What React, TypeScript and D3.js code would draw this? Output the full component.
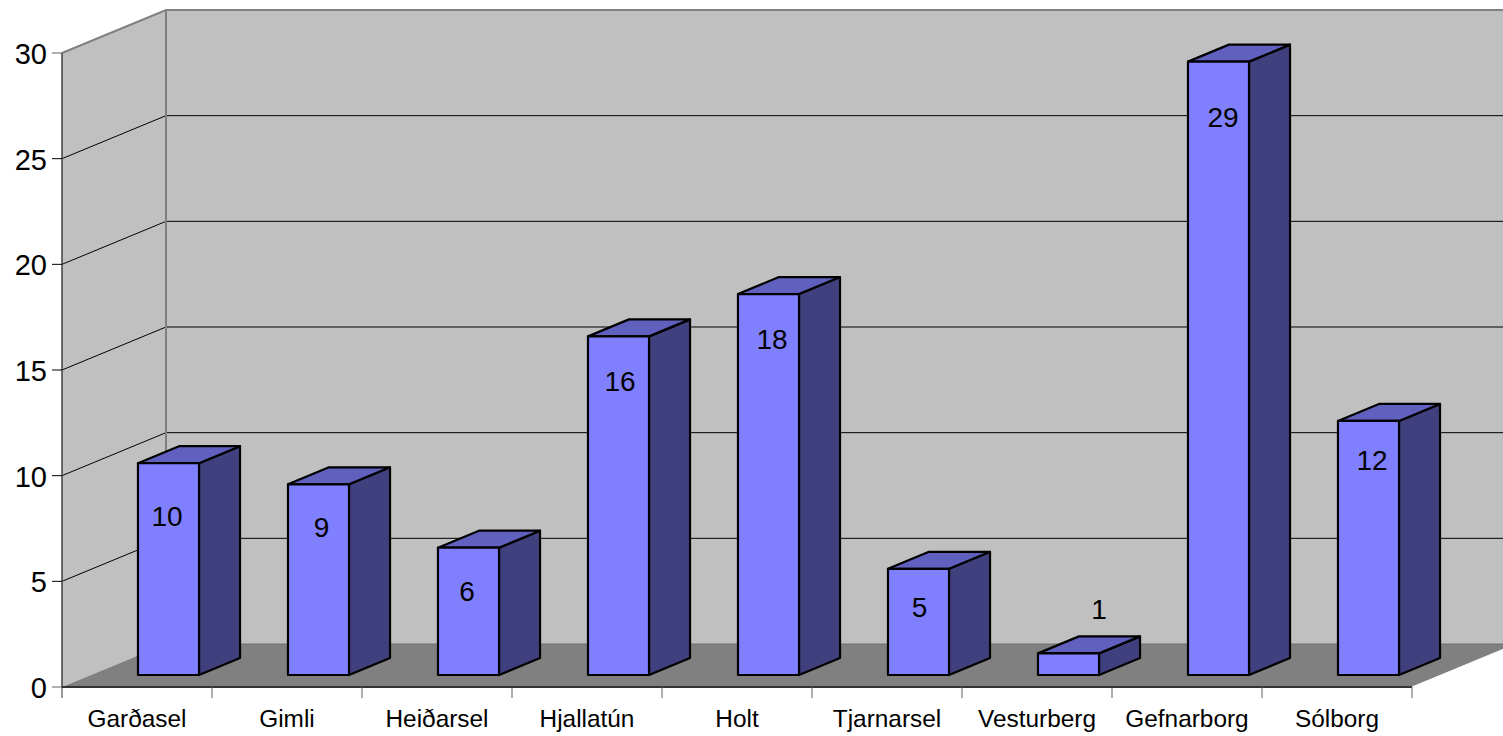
import React from 'react';
import * as d3 from 'd3';

const categories = ['Garðasel', 'Gimli', 'Heiðarsel', 'Hjallatún', 'Holt', 'Tjarnarsel', 'Vesturberg', 'Gefnarborg', 'Sólborg'];
const values = [10, 9, 6, 16, 18, 5, 1, 29, 12];
const yTicks = [0, 5, 10, 15, 20, 25, 30];

// data label nudges, excel puts them in odd places
const labelDx = [-1.5, 3, -1.5, 1.5, 3.5, 1, 30.5, 4.5, 3.5];
const labelDy = [52.5, 42.5, 43, 44.5, 44.5, 38, -44.5, 54.5, 38.5];

const W = 1503, H = 736;
const x0 = 62, x1 = 1412, y0 = 687, y30 = 53;
const depthX = 104, depthY = 43;
const barDepthX = 41, barDepthY = 17;
const barLift = 12, barShift = 31.5;
const barPadding = 0.593;

const font = '"Liberation Sans", Arial, sans-serif';

const App = () => {
  // axis slots on the front edge of the floor
  const xAxis = d3.scaleBand<string>().domain(categories).range([x0, x1]);
  // bars sit further back on the floor, same step
  const x = d3.scaleBand<string>().domain(categories)
    .range([x0 + barShift, x1 + barShift])
    .paddingInner(barPadding).paddingOuter(barPadding / 2);
  const y = d3.scaleLinear().domain([0, 30]).range([y0, y30]);
  const poly = (pts: [number, number][]) => d3.line()(pts) + 'Z';

  const edges = [...categories.map(c => xAxis(c) as number), x1];

  return (
    <svg width={W} height={H} style={{ position: 'absolute', left: 0, top: 0, display: 'block', background: '#fff' }}>
      {/* walls */}
      <path d={poly([[x0, y30], [x0 + depthX, y30 - depthY], [W, y30 - depthY], [W, y0 - depthY], [x0 + depthX, y0 - depthY], [x0, y0]])} fill="#c0c0c0" />
      <path d={poly([[x0, y0], [x0 + depthX, y0 - depthY], [x1 + depthX, y0 - depthY], [x1, y0]])} fill="#808080" />
      <line x1={x0 + depthX} x2={W} y1={y0 - depthY} y2={y0 - depthY} stroke="#707070" strokeWidth={1} />

      {/* gridlines */}
      {yTicks.slice(1, -1).map(t => (
        <path key={t} d={d3.line()([[x0, y(t)], [x0 + depthX, y(t) - depthY], [W, y(t) - depthY]]) as string} stroke="#000" strokeWidth={1} fill="none" />
      ))}
      <line x1={x0 + depthX} x2={x0 + depthX} y1={y30 - depthY} y2={y0 - depthY} stroke="#808080" strokeWidth={2} />
      <path d={d3.line()([[x0, y30], [x0 + depthX, y30 - depthY], [W, y30 - depthY]]) as string} fill="none" stroke="#808080" strokeWidth={2} />

      {/* y axis */}
      <line x1={x0} x2={x0} y1={y30} y2={y0} stroke="#404040" strokeWidth={1.5} />
      {yTicks.map(t => (
        <g key={t}>
          <line x1={x0 - 10} x2={x0} y1={y(t)} y2={y(t)} stroke={t === 0 || t === 30 ? '#606060' : '#000'} strokeWidth={1} />
          <text x={x0 - 15} y={y(t) + 11} textAnchor="end" fontFamily={font} fontSize={29} fill="#000">{t}</text>
        </g>
      ))}

      {/* x axis */}
      <line x1={x0} x2={x1} y1={y0} y2={y0} stroke="#333" strokeWidth={2} />
      <line x1={x1} x2={x1 + depthX} y1={y0} y2={y0 - depthY} stroke="#fff" strokeWidth={1} />
      {edges.map((e, i) => (
        <line key={i} x1={e} x2={e} y1={y0} y2={y0 + 11} stroke={i === 0 ? '#333' : '#606060'} strokeWidth={1} />
      ))}
      {categories.map(c => (
        <text key={c} x={(xAxis(c) as number) + xAxis.bandwidth() / 2} y={727} textAnchor="middle" fontFamily={font} fontSize={24.4} fill="#000">{c}</text>
      ))}

      {/* bars */}
      {categories.map((c, i) => {
        const left = x(c) as number;
        const right = left + x.bandwidth();
        const bottom = y(0) - barLift;
        const top = bottom - (y(0) - y(values[i])) - 0.5;
        return (
          <g key={c} stroke="#000" strokeWidth={2.2} strokeLinejoin="round">
            <path d={poly([[right, top], [right + barDepthX, top - barDepthY], [right + barDepthX, bottom - barDepthY], [right, bottom]])} fill="#40407f" />
            <path d={poly([[left, top], [left + barDepthX, top - barDepthY], [right + barDepthX, top - barDepthY], [right, top]])} fill="#6060bf" />
            <rect x={left} y={top} width={right - left} height={bottom - top} fill="#8080ff" />
          </g>
        );
      })}

      {/* data labels */}
      {categories.map((c, i) => {
        const mid = (x(c) as number) + x.bandwidth() / 2;
        const top = y(0) - barLift - (y(0) - y(values[i]));
        return (
          <text key={c} x={mid + labelDx[i]} y={top + labelDy[i] + 10} textAnchor="middle" fontFamily={font} fontSize={28} fill="#000">{values[i]}</text>
        );
      })}
    </svg>
  );
};

export default App;
